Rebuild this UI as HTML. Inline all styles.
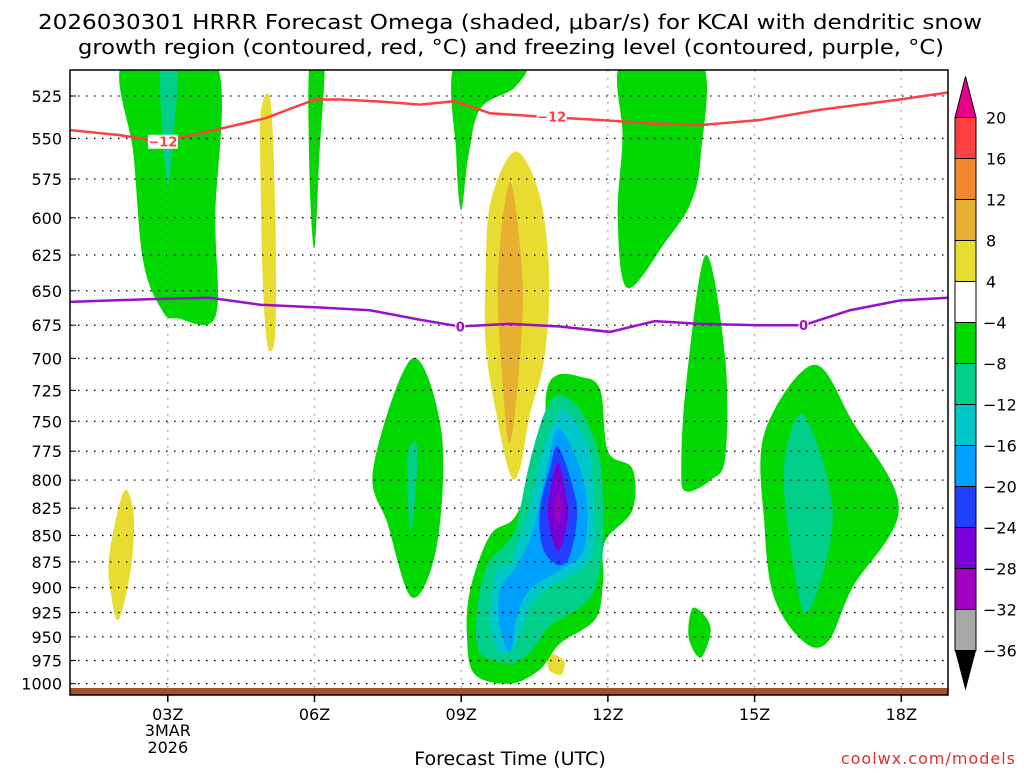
<!DOCTYPE html>
<html><head><meta charset="utf-8"><style>
body{margin:0;background:#fff;}
svg text{font-family:"DejaVu Sans","Liberation Sans",sans-serif;}
</style></head><body>
<svg id="chart" width="1024" height="768" viewBox="0 0 1024 768" xmlns="http://www.w3.org/2000/svg">
<rect width="1024" height="768" fill="#fff"/>
<text x="510" y="29" font-size="20" text-anchor="middle" textLength="944" lengthAdjust="spacingAndGlyphs">2026030301 HRRR Forecast Omega (shaded, μbar/s) for KCAI with dendritic snow</text>
<text x="511" y="54" font-size="20" text-anchor="middle" textLength="866" lengthAdjust="spacingAndGlyphs">growth region (contoured, red, °C) and freezing level (contoured, purple, °C)</text>
<g id="fills"></g>
<g id="grid"></g>
<g id="lines"></g>
<g id="axes"></g>
<g id="cbar"></g>
<text x="510" y="765" font-size="19" text-anchor="middle">Forecast Time (UTC)</text>
<text x="1016" y="764" font-size="16" text-anchor="end" fill="#e03030" letter-spacing="1">coolwx.com/models</text>
</svg>
<script>
const pLevels=[525,550,575,600,625,650,675,700,725,750,775,800,825,850,875,900,925,950,975,1000];
const timeTicks=[3,6,9,12,15,18];
const timeLabels=["03Z","06Z","09Z","12Z","15Z","18Z"];
const cbarLevels=[20,16,12,8,4,-4,-8,-12,-16,-20,-24,-28,-32,-36];
const cbarColors=["#ff4040","#f08830","#e8b030","#e8dc30","#ffffff","#00d800","#00d08a","#00c8c8","#00a0ff","#2040ff","#7a00d8","#a000c0","#a8a8a8"];
const greenTopLeft=[[2.1,505],[3.97,505],[3.97,600],[3.97,669],[3.2,670],[2.9,665],[2.5,630],[2.3,560]];
const tealTopLeft=[[2.85,505],[3.2,505],[3.1,555],[3.0,578],[2.9,550]];
const greenThin=[[5.9,505],[6.2,505],[6.1,560],[6.0,620],[5.9,575]];
const greenTopMid=[[8.9,505],[10.3,505],[10.1,520],[9.4,532],[9.15,560],[9.0,595],[8.9,560]];
const greenTopRight=[[12.3,505],[13.9,505],[13.9,560],[13.7,590],[13.2,615],[12.4,648],[12.2,600],[12.3,550]];
const yellowThin=[[4.9,535],[5.1,528],[5.2,600],[5.2,680],[5.05,692],[4.95,650],[4.9,580]];
const yellowBig=[[9.5,640],[9.6,590],[10.1,558],[10.6,585],[10.8,640],[10.7,700],[10.4,745],[10.2,790],[10.0,795],[9.7,740],[9.5,690]];
const orangeBig=[[9.75,640],[10.0,577],[10.25,640],[10.2,700],[10.0,768],[9.85,720]];
const yellowLeft=[[1.8,870],[2.1,810],[2.3,830],[2.25,880],[2.0,932],[1.85,910]];
const yellowTiny=[[10.8,968],[11.1,975],[11.05,990],[10.8,985]];
const greenDiamond=[[7.2,790],[8.0,700],[8.6,760],[8.5,860],[8.0,910],[7.5,840]];
const tealDiamond=[[7.9,780],[8.1,770],[8.05,820],[7.95,845]];
const greenRightMid=[[14.0,625],[14.4,700],[14.4,780],[14.1,800],[13.6,810],[13.5,790],[13.6,720]];
const greenSmall=[[13.75,920],[14.1,940],[13.9,972],[13.65,950]];
const greenRight=[[15.2,760],[16.2,705],[17.0,750],[17.95,825],[17.0,900],[16.5,955],[16.0,955],[15.4,910],[15.2,840]];
const tealRight=[[15.6,790],[16.0,745],[16.6,830],[16.1,925],[15.8,880]];
const greenMain=[[10.96,713],[11.4,714],[11.84,724],[12.0,775],[12.5,790],[12.5,827],[11.94,856],[11.9,895],[11.74,932],[11.02,957],[10.6,985],[10.0,1000],[9.28,990],[9.12,952],[9.18,903],[9.59,850],[10.1,833],[10.5,790],[10.7,759],[10.75,725]];
const tealMain=[[11.06,729],[11.49,744],[11.84,783],[11.9,845],[11.84,883],[11.57,914],[10.82,939],[10.41,966],[10.0,978],[9.38,966],[9.32,924],[9.53,878],[9.94,857],[10.14,839],[10.41,783],[10.75,739]];
const cyanMain=[[11.12,741],[11.57,768],[11.7,812],[11.7,862],[11.43,883],[10.82,899],[10.41,920],[10.06,963],[9.73,963],[9.59,929],[9.73,883],[10.0,875],[10.35,833],[10.61,783],[10.88,752]];
const blueMain=[[10.98,756],[11.37,783],[11.57,820],[11.49,865],[11.02,883],[10.41,902],[10.14,929],[10.0,966],[9.79,939],[9.79,902],[10.14,878],[10.47,845],[10.75,790]];
const dblueMain=[[10.98,771],[11.29,807],[11.37,833],[11.22,869],[10.98,878],[10.67,862],[10.61,827],[10.82,789]];
const purpleMain=[[10.98,785],[11.15,815],[11.18,835],[10.98,865],[10.78,835],[10.8,815]];
const magentaMain=[[10.98,810],[11.05,826],[10.98,840],[10.91,826]];
const redLineHours=[1,2.02,2.84,3.66,4.99,6.01,6.52,7.24,8.16,8.87,9.59,10.61,11.84,12.86,13.88,15.11,16.34,17.97,18.95];
const redLineP=[545,548,552,547,538,527,527,528,530,528,535,537,539,541,542,539,533,527,523];
const purpLineHours=[1,2.64,3.86,4.89,6.11,7.13,8.16,8.98,10.0,11.02,12.04,12.96,13.88,15.11,16.0,16.95,17.97,18.95];
const purpLineP=[658,656,655,660,662,664,671,676,674,676,680,672,674,675,675,664,657,655];

const NS="http://www.w3.org/2000/svg";
const X0=70,X1=948,Y0=70,Y1=695;
function xs(h){return 70+(h-1)*48.9;}
function ys(p){return 96+912*Math.log(p/525);}
function mk(tag,attrs,parent){const e=document.createElementNS(NS,tag);for(const k in attrs)e.setAttribute(k,attrs[k]);parent.appendChild(e);return e;}
function smooth(pts){const P=pts.map(q=>[xs(q[0]),ys(q[1])]);const n=P.length;let d="M"+P[0][0]+","+P[0][1];
 for(let i=0;i<n;i++){const p0=P[(i-1+n)%n],p1=P[i],p2=P[(i+1)%n],p3=P[(i+2)%n];
 d+=" C"+(p1[0]+(p2[0]-p0[0])/6)+","+(p1[1]+(p2[1]-p0[1])/6)+" "+(p2[0]-(p3[0]-p1[0])/6)+","+(p2[1]-(p3[1]-p1[1])/6)+" "+p2[0]+","+p2[1];}
 return d+"Z";}
const fills=document.getElementById('fills');
const cp=mk('clipPath',{id:'clip'},fills);
mk('rect',{x:X0,y:Y0,width:X1-X0,height:Y1-Y0},cp);
const G=mk('g',{'clip-path':'url(#clip)'},fills);
const regions=[
 ["green-region-top-left",greenTopLeft,5],["teal-region-top-left",tealTopLeft,6],["green-region-thin",greenThin,5],
 ["green-region-top-mid",greenTopMid,5],["green-region-top-right",greenTopRight,5],["yellow-region-thin",yellowThin,3],
 ["yellow-region-big",yellowBig,3],["orange-region",orangeBig,2],["yellow-region-left",yellowLeft,3],["yellow-region-tiny",yellowTiny,3],
 ["green-region-diamond",greenDiamond,5],["teal-region-diamond",tealDiamond,6],["green-region-right-mid",greenRightMid,5],
 ["green-region-small",greenSmall,5],["green-region-right",greenRight,5],["teal-region-right",tealRight,6],
 ["green-region-main",greenMain,5],["teal-region-main",tealMain,6],["cyan-region-main",cyanMain,7],["blue-region-main",blueMain,8],
 ["darkblue-region-main",dblueMain,9],["purple-region-main",purpleMain,10],["magenta-region-main",magentaMain,11]];
regions.forEach(r=>{const e=mk('path',{d:smooth(r[1]),fill:cbarColors[r[2]]},G);
 
 });
const grid=document.getElementById('grid');
pLevels.forEach(p=>{const e=mk('line',{x1:X0,x2:X1,y1:ys(p),y2:ys(p),stroke:'#000','stroke-width':1.3,'stroke-dasharray':'1.5 6.5'},grid);
 
 });
timeTicks.forEach(h=>{const e=mk('line',{x1:xs(h),x2:xs(h),y1:Y0,y2:Y1,stroke:'#999','stroke-width':1.3,'stroke-dasharray':'1.5 6.5'},grid);
 
 });
const lines=document.getElementById('lines');
function line(hs,ps,col,name){const d=hs.map((h,i)=>(i?"L":"M")+xs(h)+","+ys(ps[i])).join(" ");
 const e=mk('path',{d:d,fill:'none',stroke:col,'stroke-width':2.5,'clip-path':'url(#clip)'},lines);
 
 }
line(redLineHours,redLineP,'#ff4040','dendritic-contour-line');
line(purpLineHours,purpLineP,'#9a10c8','freezing-level-line');
[[2.9,552,'-12','#ff4040'],[10.85,537,'-12','#ff4040'],[8.98,676,'0','#9a10c8'],[16.0,675,'0','#9a10c8']].forEach(l=>{
 mk('rect',{x:xs(l[0])-(l[2].length*5),y:ys(l[1])-7,width:l[2].length*10,height:14,fill:'#fff'},lines);
 const t=mk('text',{x:xs(l[0]),y:ys(l[1])+5,'font-size':13,'font-weight':'bold',fill:l[3],'text-anchor':'middle'},lines);
 t.textContent=l[2]==='-12'?'−12':l[2];
 
 });
const axes=document.getElementById('axes');
const gr=mk('rect',{x:X0,y:688,width:X1-X0,height:7,fill:'#a0522d'},axes);


const fr=mk('rect',{x:X0,y:Y0,width:X1-X0,height:Y1-Y0,fill:'none',stroke:'#000','stroke-width':1.5},axes);


pLevels.forEach(p=>{const t=mk('text',{x:62,y:ys(p)+6,'font-size':16,'text-anchor':'end'},axes);t.textContent=p;
 
 
 mk('line',{x1:X0,x2:X0+6,y1:ys(p),y2:ys(p),stroke:'#000'},axes);});
timeTicks.forEach((h,i)=>{mk('line',{x1:xs(h),x2:xs(h),y1:Y1,y2:Y1+7,stroke:'#000','stroke-width':1.5},axes);
 const t=mk('text',{x:xs(h),y:720,'font-size':16,'text-anchor':'middle'},axes);t.textContent=timeLabels[i];
 
 });
[["3MAR",736],["2026",753]].forEach(s=>{const t=mk('text',{x:xs(3),y:s[1],'font-size':16,'text-anchor':'middle'},axes);t.textContent=s[0];
 
 });
const cb=document.getElementById('cbar');
const CX=955,CW=21,CT=117.5,CS=41.0;
cbarColors.forEach((c,i)=>{const e=mk('rect',{x:CX,y:CT+i*CS,width:CW,height:CS,fill:c,stroke:'#000','stroke-width':1},cb);
 
 });
const tt=mk('polygon',{points:`${CX},${CT} ${CX+CW},${CT} ${CX+CW/2},${CT-41}`,fill:'#e8008a',stroke:'#000'},cb);


const yb=CT+cbarColors.length*CS;
const tb=mk('polygon',{points:`${CX},${yb} ${CX+CW},${yb} ${CX+CW/2},${yb+40}`,fill:'#000'},cb);


cbarLevels.forEach((v,i)=>{const t=mk('text',{x:v<0?983:986,y:CT+i*CS+6,'font-size':16},cb);t.textContent=v<0?'−'+(-v):v;
 
 });
</script>
</body></html>
